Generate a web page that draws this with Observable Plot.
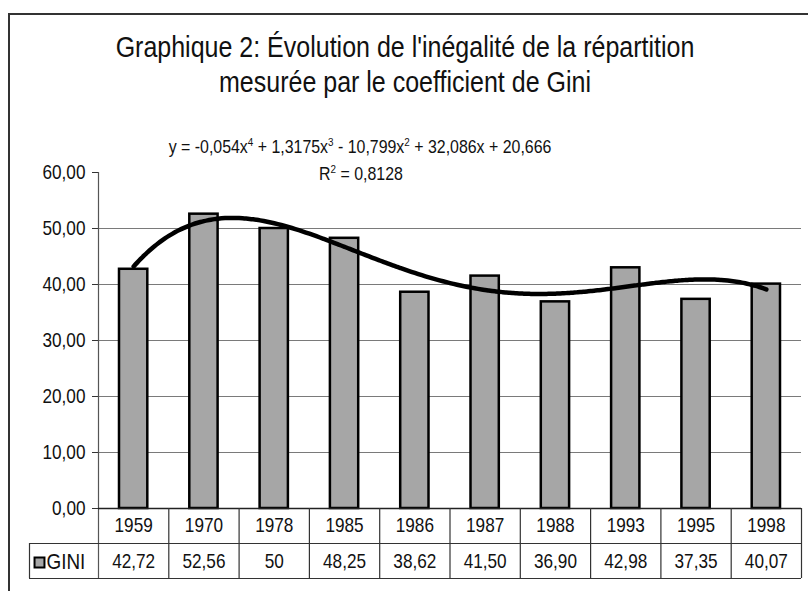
<!DOCTYPE html>
<html>
<head>
<meta charset="utf-8">
<script src="https://cdn.jsdelivr.net/npm/d3@7"></script>
<script src="https://cdn.jsdelivr.net/npm/@observablehq/plot@0.6"></script>
<style>
  html, body { margin: 0; padding: 0; background: #fff; }
  #wrap { position: relative; width: 808px; height: 591px; overflow: hidden; background: #fff;
          font-family: "Liberation Sans Narrow", "Arial Narrow", "Liberation Sans", Arial, sans-serif; color: #111; }
  #border { position: absolute; left: 8px; top: 13px; width: 820px; height: 600px;
            border-left: 2px solid #333; border-top: 2px solid #333; }
  .t { position: absolute; white-space: nowrap; transform: translate(-50%, -50%) scaleX(0.862); }
  #title1 { left: 405px; top: 47px; font-size: 29px; }
  #title2 { left: 405px; top: 82px; font-size: 29px; }
  #eq { left: 360px; top: 147px; font-size: 18.5px; transform: translate(-50%, -50%) scaleX(0.86); }
  #r2 { left: 361px; top: 174px; font-size: 18.5px; transform: translate(-50%, -50%) scaleX(0.86); }
  sup { font-size: 0.62em; vertical-align: 0.6em; line-height: 0; }
  #chart { position: absolute; left: 0; top: 0; }
</style>
</head>
<body>
<div id="wrap">
  <div id="border"></div>
  <div id="chart"></div>
  <div class="t" id="title1">Graphique 2: Évolution de l'inégalité de la répartition</div>
  <div class="t" id="title2">mesurée par le coefficient de Gini</div>
  <div class="t" id="eq">y = -0,054x<sup>4</sup> + 1,3175x<sup>3</sup> - 10,799x<sup>2</sup> + 32,086x + 20,666</div>
  <div class="t" id="r2">R<sup>2</sup> = 0,8128</div>
</div>
<script>
const years = ["1959", "1970", "1978", "1985", "1986", "1987", "1988", "1993", "1995", "1998"];
const gini = [42.72, 52.56, 50, 48.25, 38.62, 41.50, 36.90, 42.98, 37.35, 40.07];
const giniLabels = ["42,72", "52,56", "50", "48,25", "38,62", "41,50", "36,90", "42,98", "37,35", "40,07"];
const seriesName = "GINI";
const yTicks = [0, 10, 20, 30, 40, 50, 60];
const gridValues = [10, 20, 30, 40, 50];
// polynomial trend line coefficients shown on the chart (x^4 ... x^0), x = 1..10
const trendCoefficients = [-0.054, 1.3175, -10.799, 32.086, 20.666];

const trend = d3.range(1, 10.0001, 0.05).map(t => ({
  x: t - 0.5,
  y: trendCoefficients.reduce((acc, c) => acc * t + c, 0)
}));

const font = '"Liberation Sans Narrow", "Arial Narrow", "Liberation Sans", Arial, sans-serif';
const fs = 20;

const chart = Plot.plot({
  width: 808,
  height: 591,
  marginLeft: 98,
  marginRight: 7,
  marginTop: 172,
  marginBottom: 83,
  style: { fontFamily: font, fontSize: fs + "px", background: "transparent", color: "#111" },
  x: { domain: [0, 10], axis: null },
  y: { domain: [0, 60], axis: null },
  marks: [
    // grid lines
    Plot.ruleY(gridValues, { stroke: "#7a7a7a", strokeWidth: 1 }),
    // bars
    Plot.rectY(gini, {
      x1: (d, i) => i, x2: (d, i) => i + 1, y: d => d,
      insetLeft: 21, insetRight: 21,
      fill: "#a6a6a6", stroke: "#000", strokeWidth: 2.5
    }),
    // trend line
    Plot.line(trend, { x: "x", y: "y", stroke: "#000", strokeWidth: 4.5, curve: "natural" }),
    // y axis
    Plot.axisY(yTicks, {
      tickSize: 6, tickPadding: 7, fontSize: fs, stroke: "#333",
      tickFormat: d => d.toFixed(2).replace(".", ","), label: null
    }),
    Plot.ruleX([0], { stroke: "#555", strokeWidth: 1.2, insetBottom: -70 }),
    // baseline
    Plot.ruleY([0], { stroke: "#222", strokeWidth: 1.5 }),
    // data table: year row (x axis labels)
    Plot.axisX(d3.range(10).map(i => i + 0.5), {
      tickSize: 0, tickPadding: 9, fontSize: fs, label: null,
      tickFormat: d => years[Math.floor(d)]
    }),
    // data table grid
    Plot.ruleX(d3.range(1, 11), { y1: 0, insetBottom: -70, stroke: "#333", strokeWidth: 1.2 }),
    Plot.ruleY([0], { dy: 35, insetLeft: -69, stroke: "#333", strokeWidth: 1.2 }),
    Plot.ruleY([0], { dy: 70, insetLeft: -69, stroke: "#333", strokeWidth: 1.2 }),
    Plot.ruleX([0], { y1: 0, dx: -69, insetTop: 35, insetBottom: -70, stroke: "#333", strokeWidth: 1.2 }),
    // data table: value row
    Plot.text(giniLabels, { x: (d, i) => i + 0.5, y: () => 0, text: d => d, dy: 53, fontSize: fs, fill: "#111" }),
    // legend key
    Plot.dot([seriesName], { x: () => 0, y: () => 0, dx: -59, dy: 54, symbol: "square", r: 5.6,
      fill: "#a6a6a6", stroke: "#000", strokeWidth: 2 }),
    Plot.text([seriesName], { x: () => 0, y: () => 0, text: d => d, dx: -52, dy: 53,
      textAnchor: "start", fontSize: 22, fill: "#111" })
  ]
});

// emulate a narrow typeface: squeeze each label horizontally around its anchor
const squeeze = 0.86;
chart.querySelectorAll("text").forEach(t => {
  const x = parseFloat(t.getAttribute("x")) || 0;
  const tr = t.getAttribute("transform") || "";
  t.setAttribute("transform", `${tr} translate(${x},0) scale(${squeeze},1) translate(${-x},0)`);
});
document.getElementById("chart").appendChild(chart);
</script>
</body>
</html>
